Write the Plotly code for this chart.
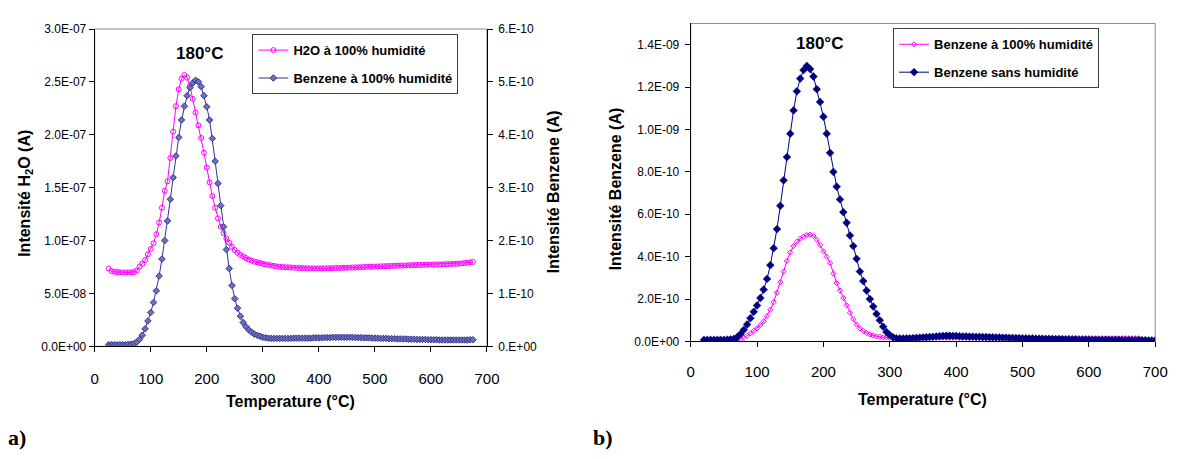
import plotly.graph_objects as go

W, H = 1184, 459

# ---------------- data (a) ----------------
temp_a = list(range(25, 680, 5))  # °C
h2o_100_e8 = [  # H2O at 100% humidity, units of 1e-8 A
    7.35, 7.12, 7.05, 7.02, 7.00, 6.98, 6.98, 6.98, 6.99, 7.02,
    7.15, 7.55, 7.80, 8.15, 8.70, 9.20, 9.75, 10.6, 11.7, 13.1,
    14.7, 15.6, 17.8, 20.3, 22.7, 24.3, 25.3, 25.65, 25.4, 24.6,
    23.4, 22.1, 20.9, 19.7, 18.3, 16.9, 15.5, 14.2, 13.1, 12.1,
    11.3, 10.7, 10.2, 9.8, 9.4, 9.1, 8.85, 8.65, 8.5, 8.35,
    8.2, 8.1, 8.0, 7.95, 7.88, 7.8, 7.75, 7.7, 7.65, 7.6,
    7.55, 7.52, 7.5, 7.48, 7.47, 7.45, 7.44, 7.42, 7.4, 7.4,
    7.38, 7.38, 7.37, 7.37, 7.37, 7.37, 7.37, 7.38, 7.38, 7.38,
    7.39, 7.4, 7.4, 7.41, 7.42, 7.43, 7.44, 7.45, 7.46, 7.47,
    7.48, 7.5, 7.51, 7.52, 7.53, 7.54, 7.55, 7.56, 7.57, 7.58,
    7.59, 7.6, 7.61, 7.62, 7.63, 7.64, 7.65, 7.66, 7.67, 7.68,
    7.69, 7.7, 7.7, 7.71, 7.72, 7.72, 7.73, 7.74, 7.74, 7.75,
    7.76, 7.77, 7.78, 7.79, 7.8, 7.82, 7.84, 7.87, 7.9, 7.94,
    7.98,
]
benz_100_a_e10 = [  # benzene at 100% humidity, units of 1e-10 A
    0.03, 0.03, 0.03, 0.03, 0.03, 0.03, 0.03, 0.04, 0.04, 0.05,
    0.08, 0.13, 0.21, 0.33, 0.48, 0.64, 0.83, 1.05, 1.33, 1.65,
    2.0, 2.37, 2.78, 3.19, 3.6, 3.95, 4.28, 4.54, 4.74, 4.89,
    4.98, 5.03, 5.0, 4.91, 4.74, 4.53, 4.28, 3.93, 3.5, 3.08,
    2.66, 2.26, 1.83, 1.47, 1.15, 0.9, 0.72, 0.57, 0.45, 0.37,
    0.31, 0.27, 0.23, 0.21, 0.19, 0.17, 0.16, 0.155, 0.15, 0.15,
    0.15, 0.15, 0.15, 0.15, 0.15, 0.15, 0.155, 0.155, 0.155, 0.155,
    0.155, 0.155, 0.155, 0.16, 0.16, 0.16, 0.16, 0.165, 0.165, 0.165,
    0.17, 0.17, 0.17, 0.17, 0.17, 0.17, 0.17, 0.17, 0.165, 0.165,
    0.165, 0.16, 0.16, 0.16, 0.155, 0.155, 0.155, 0.15, 0.15, 0.15,
    0.145, 0.145, 0.145, 0.14, 0.14, 0.14, 0.14, 0.135, 0.135, 0.135,
    0.13, 0.13, 0.13, 0.13, 0.125, 0.125, 0.125, 0.125, 0.12, 0.12,
    0.12, 0.12, 0.12, 0.12, 0.12, 0.12, 0.12, 0.12, 0.12, 0.125,
    0.125,
]

# ---------------- data (b) ----------------
temp_b_dry = list(range(20, 705, 5))
benz_dry_e10 = [  # benzene without humidity, units of 1e-10 A
    0.08, 0.08, 0.08, 0.08, 0.08, 0.08, 0.08, 0.09, 0.1, 0.12,
    0.2, 0.35, 0.55, 0.8, 1.1, 1.4, 1.7, 2.05, 2.45, 2.95,
    3.6, 4.4, 5.3, 6.4, 7.6, 8.7, 9.8, 10.9, 11.8, 12.4,
    12.8, 13.0, 12.85, 12.5, 11.9, 11.3, 10.6, 9.8, 8.9, 8.0,
    7.3, 6.7, 6.1, 5.6, 5.0, 4.5, 3.9, 3.3, 2.85, 2.4,
    2.0, 1.65, 1.3, 1.0, 0.7, 0.45, 0.3, 0.2, 0.15, 0.14,
    0.14, 0.15, 0.15, 0.16, 0.17, 0.18, 0.19, 0.2, 0.21, 0.22,
    0.24, 0.25, 0.26, 0.27, 0.27, 0.26, 0.26, 0.25, 0.24, 0.24,
    0.23, 0.23, 0.22, 0.22, 0.21, 0.21, 0.2, 0.2, 0.19, 0.19,
    0.18, 0.18, 0.17, 0.17, 0.16, 0.16, 0.15, 0.15, 0.14, 0.14,
    0.13, 0.13, 0.13, 0.12, 0.12, 0.12, 0.11, 0.11, 0.11, 0.1,
    0.1, 0.1, 0.1, 0.09, 0.09, 0.09, 0.09, 0.08, 0.08, 0.08,
    0.08, 0.08, 0.07, 0.07, 0.07, 0.07, 0.07, 0.06, 0.06, 0.06,
    0.06, 0.06, 0.06, 0.06, 0.05, 0.05, 0.05,
]
temp_b_hum = list(range(20, 680, 5))
benz_hum_b_e10 = [  # benzene at 100% humidity, units of 1e-10 A
    0.02, 0.02, 0.02, 0.02, 0.02, 0.02, 0.02, 0.02, 0.02, 0.03,
    0.05, 0.1, 0.17, 0.27, 0.38, 0.5, 0.62, 0.77, 0.95, 1.2,
    1.5, 1.85, 2.3, 2.8, 3.3, 3.8, 4.2, 4.5, 4.7, 4.85,
    4.95, 5.02, 5.04, 4.98, 4.8, 4.55, 4.25, 4.0, 3.7, 3.2,
    2.75, 2.4, 2.05, 1.7, 1.35, 1.05, 0.8, 0.62, 0.5, 0.4,
    0.33, 0.28, 0.24, 0.22, 0.2, 0.19, 0.17, 0.16, 0.15, 0.15,
    0.15, 0.15, 0.16, 0.16, 0.16, 0.17, 0.17, 0.17, 0.18, 0.18,
    0.18, 0.18, 0.18, 0.18, 0.18, 0.18, 0.18, 0.18, 0.17, 0.17,
    0.17, 0.17, 0.17, 0.17, 0.17, 0.17, 0.17, 0.16, 0.16, 0.16,
    0.16, 0.16, 0.16, 0.16, 0.16, 0.16, 0.16, 0.16, 0.16, 0.16,
    0.16, 0.16, 0.16, 0.16, 0.16, 0.16, 0.16, 0.16, 0.15, 0.15,
    0.15, 0.15, 0.15, 0.15, 0.15, 0.15, 0.15, 0.15, 0.15, 0.15,
    0.15, 0.15, 0.15, 0.15, 0.15, 0.15, 0.15, 0.15, 0.15, 0.15,
    0.15, 0.15,
]

# tick labels
x_ticks = [0, 100, 200, 300, 400, 500, 600, 700]
ya_vals = [0, 5e-8, 1e-7, 1.5e-7, 2e-7, 2.5e-7, 3e-7]
ya_text = ["0.0E+00", "5.0E-08", "1.0E-07", "1.5E-07", "2.0E-07", "2.5E-07", "3.0E-07"]
ya2_vals = [0, 1e-10, 2e-10, 3e-10, 4e-10, 5e-10, 6e-10]
ya2_text = ["0.E+00", "1.E-10", "2.E-10", "3.E-10", "4.E-10", "5.E-10", "6.E-10"]
yb_vals = [0, 2e-10, 4e-10, 6e-10, 8e-10, 1e-9, 1.2e-9, 1.4e-9]
yb_text = ["0.0E+00", "2.0E-10", "4.0E-10", "6.0E-10", "8.0E-10", "1.0E-09", "1.2E-09", "1.4E-09"]

h2o_100 = [v * 1e-8 for v in h2o_100_e8]
benz_100_a = [v * 1e-10 for v in benz_100_a_e10]
benz_dry = [v * 1e-10 for v in benz_dry_e10]
benz_hum_b = [v * 1e-10 for v in benz_hum_b_e10]

MAG = "#FF00FF"
SLATE = "#333399"
NAVY = "#000080"
FONT = "Liberation Sans, Arial, sans-serif"

fig = go.Figure()
fig.add_trace(go.Scatter(
    x=temp_a, y=h2o_100, name="<b>H2O à 100% humidité</b>", mode="lines+markers",
    line=dict(color=MAG, width=1),
    marker=dict(symbol="circle-open", size=5, color=MAG, line=dict(width=1)),
    xaxis="x", yaxis="y", legend="legend", legendgroup="a1"))
fig.add_trace(go.Scatter(
    x=temp_a, y=benz_100_a, name="<b>Benzene à 100% humidité</b>", mode="lines+markers",
    line=dict(color=SLATE, width=1),
    marker=dict(symbol="diamond", size=5, color="#7070b8", line=dict(width=1, color=SLATE)),
    xaxis="x", yaxis="y2", legend="legend", legendgroup="a2"))
fig.add_trace(go.Scatter(
    x=temp_b_hum, y=benz_hum_b, name="<b>Benzene à 100% humidité</b>", mode="lines+markers",
    line=dict(color=MAG, width=1),
    marker=dict(symbol="diamond-open", size=4, color=MAG, line=dict(width=1)),
    xaxis="x2", yaxis="y3", legend="legend2", legendgroup="b1"))
fig.add_trace(go.Scatter(
    x=temp_b_dry, y=benz_dry, name="<b>Benzene sans humidité</b>", mode="lines+markers",
    line=dict(color=NAVY, width=1),
    marker=dict(symbol="diamond", size=6, color=NAVY, line=dict(width=0.5, color=NAVY)),
    xaxis="x2", yaxis="y3", legend="legend2", legendgroup="b2"))

def px_x(p):
    return p / W

def px_y(p):
    return 1 - p / H

ax_common = dict(showgrid=False, zeroline=False, showline=True, linecolor="black",
                 linewidth=1, ticks="outside", ticklen=5, tickcolor="black",
                 tickwidth=1, color="black")

xa_dom = [px_x(92), px_x(490)]
ya_dom = [px_y(350), px_y(22.7)]
xb_dom = [px_x(696.7), px_x(1168)]
yb_dom = [px_y(345), px_y(17)]

fig.update_layout(
    width=W, height=H, margin=dict(l=0, r=0, t=0, b=0),
    paper_bgcolor="white", plot_bgcolor="white",
    font=dict(family=FONT, color="black"),
    xaxis=dict(domain=xa_dom, range=[0, 700], tickvals=x_ticks, anchor="y",
               tickfont=dict(size=15), ticklabelstandoff=14, **ax_common),
    yaxis=dict(domain=ya_dom, range=[0, 3e-7], tickvals=ya_vals, ticktext=ya_text,
               anchor="x", tickfont=dict(size=12), **ax_common),
    yaxis2=dict(range=[0, 6e-10], tickvals=ya2_vals, ticktext=ya2_text, overlaying="y",
                side="right", anchor="x", tickfont=dict(size=12), ticklabelstandoff=3,
                **ax_common),
    xaxis2=dict(domain=xb_dom, range=[0, 700], tickvals=x_ticks, anchor="y3",
                tickfont=dict(size=15), ticklabelstandoff=12, **ax_common),
    yaxis3=dict(domain=yb_dom, range=[0, 1.5e-9], tickvals=yb_vals, ticktext=yb_text,
                anchor="x2", tickfont=dict(size=12), ticklabelstandoff=3, **ax_common),
    legend=dict(x=px_x(252), y=px_y(28), xanchor="left", yanchor="top",
                bordercolor="#404040", borderwidth=1, bgcolor="white",
                font=dict(size=13, family=FONT, color="black"), tracegroupgap=8,
                itemwidth=30),
    legend2=dict(x=px_x(902), y=px_y(22), xanchor="left", yanchor="top",
                 bordercolor="#404040", borderwidth=1, bgcolor="white",
                 font=dict(size=13, family=FONT, color="black"), tracegroupgap=8,
                 itemwidth=30),
    showlegend=True,
)

# gray plot-area frames (top / right edges)
for xr, yr in [("x", "y"), ("x2", "y3")]:
    fig.add_shape(type="rect", xref=f"{xr} domain", yref=f"{yr} domain",
                  x0=0, x1=1, y0=0, y1=1, line=dict(color="#8c8c8c", width=1),
                  layer="below")

def ann(text, x, y, size, angle=0, family=FONT):
    fig.add_annotation(text=text, x=px_x(x), y=px_y(y), xref="paper", yref="paper",
                       showarrow=False, textangle=angle,
                       font=dict(size=size, family=family, color="black"),
                       xanchor="center", yanchor="middle")

ann("<b>Intensité H<sub>2</sub>O (A)</b>", 21, 192, 16, -90)
ann("<b>Intensité Benzene (A)</b>", 557, 191, 16, -90)
ann("<b>Intensité Benzene (A)</b>", 620, 188, 16, -90)
ann("<b>Temperature (°C)</b>", 291, 407, 16)
ann("<b>Temperature (°C)</b>", 932, 405, 16)
ann("<b>180°C</b>", 198, 48, 17)
ann("<b>180°C</b>", 827, 38, 17)
ann("<b>a)</b>", 13, 444, 22, family="Liberation Serif, Times New Roman, serif")
ann("<b>b)</b>", 608, 444, 22, family="Liberation Serif, Times New Roman, serif")

fig.write_html("out.html")
